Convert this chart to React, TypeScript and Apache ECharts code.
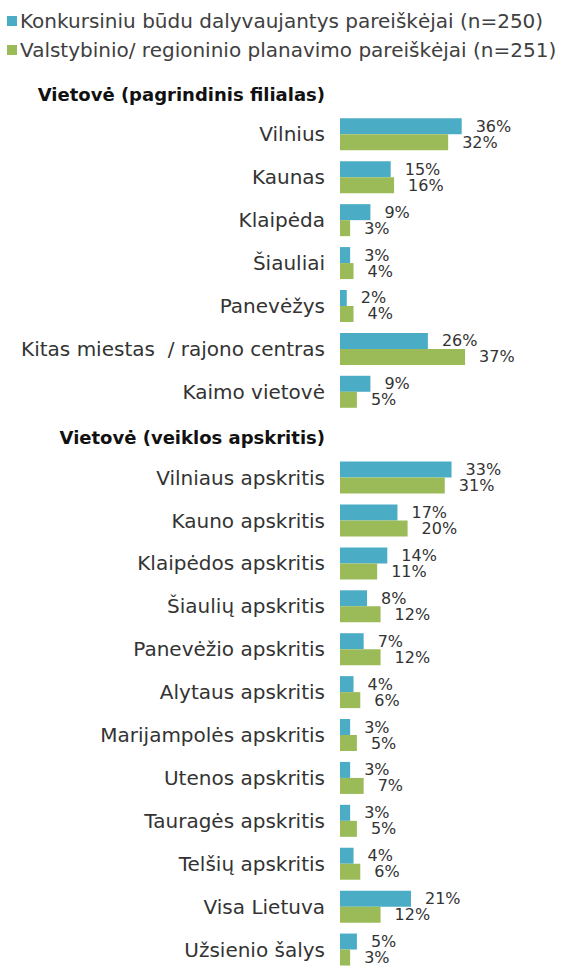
import React, { useEffect, useRef } from "react";
import * as echarts from "echarts";

const headers: Record<string, string> = {
  __h1: "Vietovė (pagrindinis filialas)",
  __h2: "Vietovė (veiklos apskritis)",
};

const categories = [
  "__h1",
  "Vilnius",
  "Kaunas",
  "Klaipėda",
  "Šiauliai",
  "Panevėžys",
  "Kitas miestas  / rajono centras",
  "Kaimo vietovė",
  "__h2",
  "Vilniaus apskritis",
  "Kauno apskritis",
  "Klaipėdos apskritis",
  "Šiaulių apskritis",
  "Panevėžio apskritis",
  "Alytaus apskritis",
  "Marijampolės apskritis",
  "Utenos apskritis",
  "Tauragės apskritis",
  "Telšių apskritis",
  "Visa Lietuva",
  "Užsienio šalys",
];

const konkursiniu = [null, 36, 15, 9, 3, 2, 26, 9, null, 33, 17, 14, 8, 7, 4, 3, 3, 3, 4, 21, 5];
const valstybinio = [null, 32, 16, 3, 4, 4, 37, 5, null, 31, 20, 11, 12, 12, 6, 5, 7, 5, 6, 12, 3];

const seriesNames = [
  "Konkursiniu būdu dalyvaujantys pareiškėjai (n=250)",
  "Valstybinio/ regioninio planavimo pareiškėjai (n=251)",
];

const FONT = "DejaVu Sans";

export default function App() {
  const ref = useRef<HTMLDivElement>(null);
  useEffect(() => {
    document.body.style.margin = "0";
    const chart = echarts.init(ref.current!, null, { renderer: "svg" });
    const labelCfg = {
      show: true,
      position: "right",
      distance: 14,
      fontFamily: FONT,
      fontSize: 16,
      lineHeight: 16,
      color: "#333333",
      formatter: (p: any) => (p.value == null ? "" : p.value + "%"),
    };
    chart.setOption({
      animation: false,
      backgroundColor: "#ffffff",
      legend: {
        orient: "vertical",
        left: 2,
        top: 6,
        itemWidth: 10,
        itemHeight: 10,
        itemGap: 9,
        icon: "rect",
        textStyle: { fontFamily: FONT, fontSize: 20, color: "#404040", padding: [0, 0, 0, -2] },
        data: seriesNames,
      },
      grid: { left: 340, top: 70, height: 902, width: 169, containLabel: false },
      xAxis: {
        type: "value",
        min: 0,
        max: 50,
        show: false,
      },
      yAxis: {
        type: "category",
        inverse: true,
        data: categories,
        axisLine: { show: false },
        axisTick: { show: false },
        axisLabel: {
          margin: 15,
          fontFamily: FONT,
          fontSize: 20,
          color: "#333333",
          formatter: (v: string) => (headers[v] ? `{h|${headers[v]}}` : v),
          rich: {
            h: { fontFamily: FONT, fontSize: 18, fontWeight: "bold", color: "#111111", padding: [6, 0, 0, 0] },
          },
        },
      },
      series: [
        {
          name: seriesNames[0],
          type: "bar",
          data: konkursiniu,
          barWidth: 16,
          barGap: "0%",
          itemStyle: { color: "#4BACC6" },
          label: labelCfg,
        },
        {
          name: seriesNames[1],
          type: "bar",
          data: valstybinio,
          barWidth: 16,
          barGap: "0%",
          itemStyle: { color: "#9BBB59" },
          label: labelCfg,
        },
      ],
    });
    return () => chart.dispose();
  }, []);
  return <div ref={ref} style={{ width: 584, height: 971 }} />;
}
